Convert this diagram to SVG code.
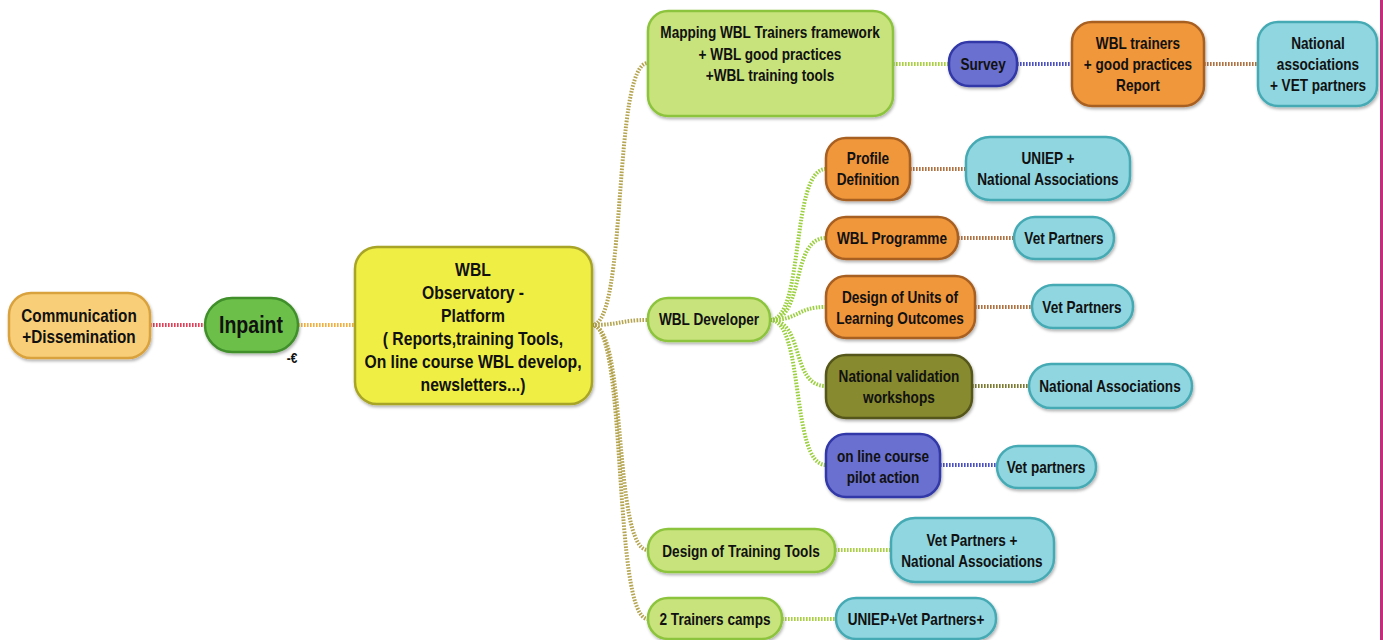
<svg xmlns="http://www.w3.org/2000/svg" width="1383" height="640" viewBox="0 0 1383 640">
<defs>
<filter id="sh" x="-10%" y="-10%" width="130%" height="140%">
<feDropShadow dx="1" dy="2" stdDeviation="1.5" flood-color="#000" flood-opacity="0.3"/>
</filter>
<style>
.n{filter:url(#sh);stroke-width:2.5}
.t{font-family:"Liberation Sans",Arial,sans-serif;font-weight:bold;fill:#111;text-anchor:middle;font-size:16px;transform-box:fill-box;transform-origin:center;transform:scaleX(0.85)}
.c{fill:none;stroke-width:4;stroke-dasharray:1.6 1.4}
.lg{fill:#c8e27c;stroke:#8cc43c}
.or{fill:#f0963a;stroke:#a86020}
.cy{fill:#8fd6e0;stroke:#45aab4}
.bl{fill:#6b70cf;stroke:#3038a8}
.ol{fill:#878a2e;stroke:#55561a}
</style>
</defs>
<rect width="1383" height="640" fill="#fff"/>
<rect x="1380" y="0" width="3" height="640" fill="#c0307a"/>
<g id="connectors">
<path class="c" stroke="#e04058" d="M150,325 H205"/>
<path class="c" stroke="#f0b040" d="M298,325 H355"/>
<g stroke="#b5a550">
<path class="c" d="M592,325 C628,325 612,63 648,63"/>
<path class="c" d="M592,325 C620,325 620,320 648,320"/>
<path class="c" d="M592,325 C628,325 612,550 648,550"/>
<path class="c" d="M592,325 C628,325 612,619 648,619"/>
</g>
<path class="c" stroke="#a8d040" d="M893,64 H949"/>
<path class="c" stroke="#4a50c0" d="M1017,64 H1072"/>
<path class="c" stroke="#b07040" d="M1204,64 H1258"/>
<g stroke="#9cd040">
<path class="c" d="M770,320 C805,320 790,169 826,169"/>
<path class="c" d="M770,320 C805,320 790,238 826,238"/>
<path class="c" d="M770,320 C800,320 796,307 826,307"/>
<path class="c" d="M770,320 C805,320 790,386 826,386"/>
<path class="c" d="M770,320 C805,320 790,465 826,465"/>
</g>
<path class="c" stroke="#b07040" d="M910,169 H966"/>
<path class="c" stroke="#b07040" d="M958,238 H1014"/>
<path class="c" stroke="#b07040" d="M975,307 H1032"/>
<path class="c" stroke="#7a7a30" d="M972,386 H1029"/>
<path class="c" stroke="#4a50c0" d="M940,465 H997"/>
<path class="c" stroke="#a8d040" d="M835,550 H891"/>
<path class="c" stroke="#a8d040" d="M782,619 H836"/>
</g>
<g id="comm">
<rect class="n" x="9" y="293" width="141" height="65" rx="22" fill="#f8cf78" stroke="#d9a23e"/>
<text class="t" style="font-size:18px" x="79" y="322">Communication</text>
<text class="t" style="font-size:18px" x="79" y="343">+Dissemination</text>
</g>
<g id="inpaint">
<rect class="n" x="205" y="298" width="93" height="54" rx="27" fill="#6cc04a" stroke="#3f8f2a"/>
<text class="t" style="font-size:23px" x="251" y="333">Inpaint</text>
<text class="t" style="font-size:14px" x="292" y="363">-€</text>
</g>
<g id="wbl">
<rect class="n" x="355" y="247" width="237" height="157" rx="22" fill="#eeee44" stroke="#a8a428"/>
<text class="t" style="font-size:18.5px" x="473" y="276">WBL</text>
<text class="t" style="font-size:18.5px" x="473" y="299">Observatory -</text>
<text class="t" style="font-size:18.5px" x="473" y="322">Platform</text>
<text class="t" style="font-size:18.5px" x="473" y="345">( Reports,training Tools,</text>
<text class="t" style="font-size:18.5px" x="473" y="368">On line course WBL develop,</text>
<text class="t" style="font-size:18.5px" x="473" y="391">newsletters...)</text>
</g>
<g id="mapping">
<rect class="n lg" x="648" y="11" width="245" height="105" rx="20"/>
<text class="t" x="770" y="38">Mapping WBL Trainers framework</text>
<text class="t" x="770" y="60">+ WBL good practices</text>
<text class="t" x="770" y="81">+WBL training tools</text>
</g>
<g id="survey">
<rect class="n bl" x="949" y="42" width="68" height="44" rx="20"/>
<text class="t" x="983" y="70">Survey</text>
</g>
<g id="report">
<rect class="n or" x="1072" y="22" width="132" height="84" rx="20"/>
<text class="t" x="1138" y="49">WBL trainers</text>
<text class="t" x="1138" y="70">+ good practices</text>
<text class="t" x="1138" y="91">Report</text>
</g>
<g id="national">
<rect class="n cy" x="1258" y="22" width="119" height="84" rx="20"/>
<text class="t" x="1318" y="49">National</text>
<text class="t" x="1318" y="70">associations</text>
<text class="t" x="1318" y="91">+ VET partners</text>
</g>
<g id="developer">
<rect class="n lg" x="648" y="298" width="122" height="43" rx="20"/>
<text class="t" x="709" y="325">WBL Developer</text>
</g>
<g id="profile">
<rect class="n or" x="826" y="138" width="84" height="62" rx="20"/>
<text class="t" x="868" y="164">Profile</text>
<text class="t" x="868" y="185">Definition</text>
</g>
<g id="uniep1">
<rect class="n cy" x="966" y="137" width="164" height="63" rx="24"/>
<text class="t" x="1048" y="164">UNIEP +</text>
<text class="t" x="1048" y="185">National Associations</text>
</g>
<g id="programme">
<rect class="n or" x="826" y="217" width="132" height="42" rx="20"/>
<text class="t" x="892" y="244">WBL Programme</text>
</g>
<g id="vet1">
<rect class="n cy" x="1014" y="217" width="100" height="42" rx="21"/>
<text class="t" x="1064" y="244">Vet Partners</text>
</g>
<g id="units">
<rect class="n or" x="826" y="276" width="149" height="62" rx="20"/>
<text class="t" x="900" y="303">Design of Units of</text>
<text class="t" x="900" y="324">Learning Outcomes</text>
</g>
<g id="vet2">
<rect class="n cy" x="1032" y="285" width="101" height="43" rx="21"/>
<text class="t" x="1082" y="313">Vet Partners</text>
</g>
<g id="validation">
<rect class="n ol" x="826" y="355" width="146" height="63" rx="20"/>
<text class="t" x="899" y="382">National validation</text>
<text class="t" x="899" y="403">workshops</text>
</g>
<g id="natassoc">
<rect class="n cy" x="1029" y="364" width="163" height="44" rx="22"/>
<text class="t" x="1110" y="392">National Associations</text>
</g>
<g id="online">
<rect class="n bl" x="826" y="434" width="114" height="63" rx="20"/>
<text class="t" x="883" y="462">on line course</text>
<text class="t" x="883" y="483">pilot action</text>
</g>
<g id="vet3">
<rect class="n cy" x="997" y="446" width="99" height="42" rx="21"/>
<text class="t" x="1046" y="473">Vet partners</text>
</g>
<g id="tools">
<rect class="n lg" x="648" y="529" width="187" height="43" rx="20"/>
<text class="t" x="741" y="557">Design of Training Tools</text>
</g>
<g id="vetnat">
<rect class="n cy" x="891" y="518" width="163" height="64" rx="24"/>
<text class="t" x="972" y="546">Vet Partners +</text>
<text class="t" x="972" y="567">National Associations</text>
</g>
<g id="camps">
<rect class="n lg" x="648" y="598" width="134" height="41" rx="20"/>
<text class="t" x="715" y="625">2 Trainers camps</text>
</g>
<g id="uniep2">
<rect class="n cy" x="836" y="598" width="160" height="41" rx="20"/>
<text class="t" x="916" y="625">UNIEP+Vet Partners+</text>
</g>
</svg>
